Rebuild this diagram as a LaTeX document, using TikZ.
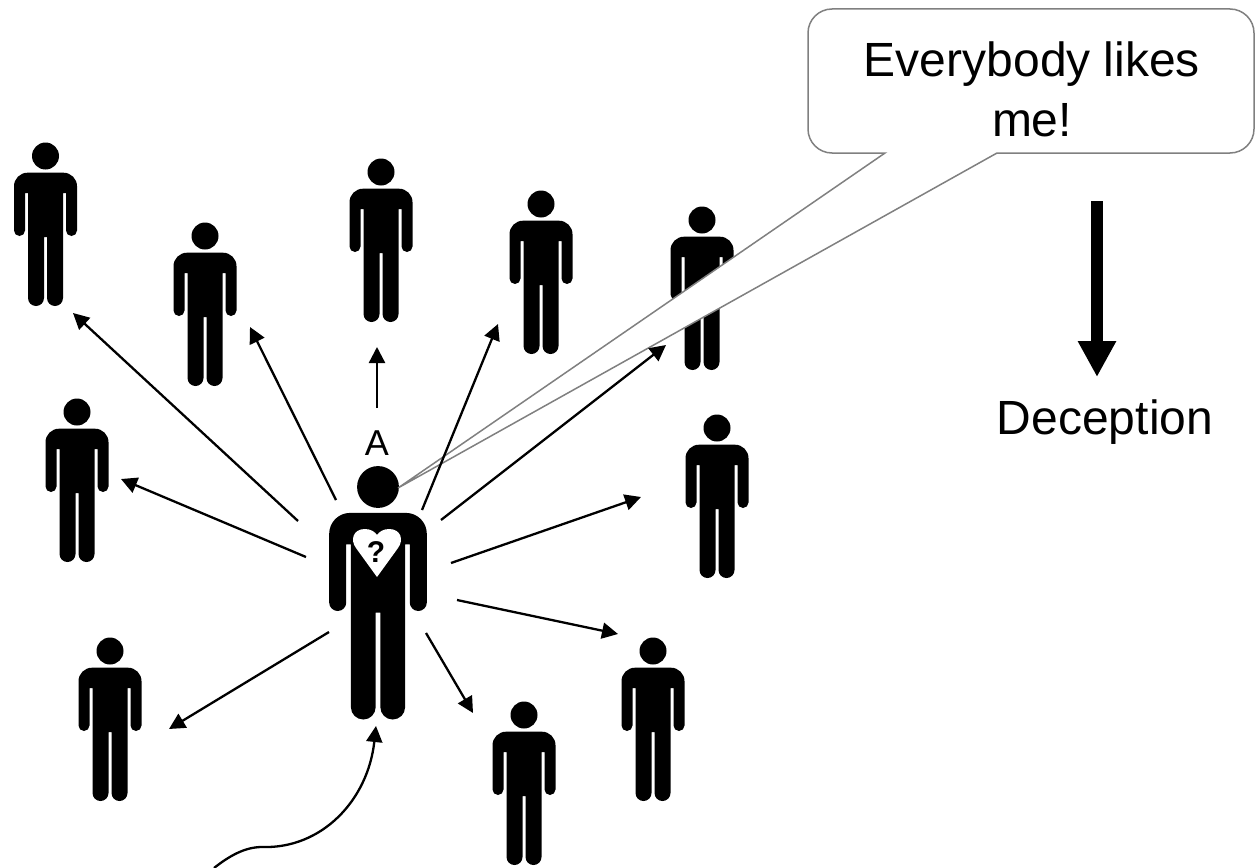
\documentclass[tikz,border=0pt]{standalone}
\usepackage{fontspec}
\setmainfont{Liberation Sans}
\usetikzlibrary{arrows.meta}
\tikzset{
  x=1pt,y=-1pt,
  conn/.style={line width=2.3pt,-{Triangle[length=16pt,width=16pt]}},
  callout/.style={draw=black!50,fill=white,line width=1.5pt,line join=miter},
  lbl/.style={font=\fontsize{48}{60}\selectfont,inner sep=0pt,align=center},
  slab/.style={font=\fontsize{36}{40}\selectfont,inner sep=0pt},
}
% person: name, head-centre x, y, scale
\newcommand{\person}[4]{%
  \begin{scope}[shift={(#2,#3)},scale=#4]
    \fill (0,0) circle[radius=13.5];
    \fill (-18,16.7) arc[start angle=270,end angle=180,radius=13.5]
      -- (-31.5,74.5) arc[start angle=180,end angle=0,radius=5.5]
      -- (-20.5,37) -- (-17.5,37)
      -- (-17.5,142) arc[start angle=180,end angle=0,radius=8]
      -- (-1.5,81) -- (1.5,81)
      -- (1.5,142) arc[start angle=180,end angle=0,radius=8]
      -- (17.5,37) -- (20.5,37)
      -- (20.5,74.5) arc[start angle=180,end angle=0,radius=5.5]
      -- (31.5,30.2) arc[start angle=0,end angle=-90,radius=13.5]
      -- cycle;
  \end{scope}
  \node[inner sep=0pt,minimum width=63*#4,minimum height=163*#4] (#1) at (#2,#3+68*#4) {};
}
\begin{document}
\begin{tikzpicture}
\useasboundingbox (0,0) rectangle (1255,867);
\person{pa}{45.5}{156}{1}
\person{pb}{205}{236}{1}
\person{pc}{381}{172}{1}
\person{pd}{541}{204}{1}
\person{pe}{702}{220}{1}
\person{pf}{77}{412}{1}
\person{pg}{717}{428}{1}
\person{ph}{110}{651}{1}
\person{pi}{653}{651}{1}
\person{pj}{524}{715}{1}
\person{me}{378}{487}{1.55}
% heart
\fill[white] (377,577) -- (356,548) .. controls (350,540) and (353,529) .. (365,529)
  .. controls (371,529) and (375,532) .. (377,535)
  .. controls (379,532) and (383,529) .. (389,529)
  .. controls (401,529) and (404,540) .. (398,548) -- cycle;
\node[font=\bfseries\fontsize{30}{34}\selectfont,inner sep=0pt] (q) at (376,552) {?};
% callout
\coordinate (tip) at (398,488);
\draw[callout] (tip) -- (885,153) -- (832,153)
  arc[start angle=90,end angle=180,radius=24] -- (808,33)
  arc[start angle=180,end angle=270,radius=24] -- (1230,9)
  arc[start angle=270,end angle=360,radius=24] -- (1254,129)
  arc[start angle=0,end angle=90,radius=24] -- (997,153) -- cycle;
% arrows
\foreach \n/\sx/\sy/\ex/\ey in {
  a/298/521/73/313, b/336/500/250/327, c/377/408/377/347, d/422/510/498/324,
  e/441/520/666/345, f/306/557/121/479, g/451/563/641/497, h/457/600/618/634,
  i/426/633/473/713, j/329/632/169/729}{
  \coordinate (s\n) at (\sx,\sy);
  \coordinate (t\n) at (\ex,\ey);
  \draw[conn] (s\n) -- (t\n);
}
\coordinate (cs) at (214,868);
\coordinate (ct) at (376,726);
\draw[conn] (cs) .. controls (228,857) and (244,847) .. (262,847)
  .. controls (322,849) and (368,800) .. (ct);
\node[lbl] (say) at (1032,89) {Everybody likes\\me!};
\node[slab] (la) at (377,443) {A};
\node[lbl] (dec) at (1105,422) {Deception};
\coordinate (bs) at (1097,201);
\coordinate (bt) at (1097,377);
\draw[line width=12pt,-{Triangle[length=36pt,width=36pt]}] (bs) -- (bt);
\end{tikzpicture}
\end{document}
